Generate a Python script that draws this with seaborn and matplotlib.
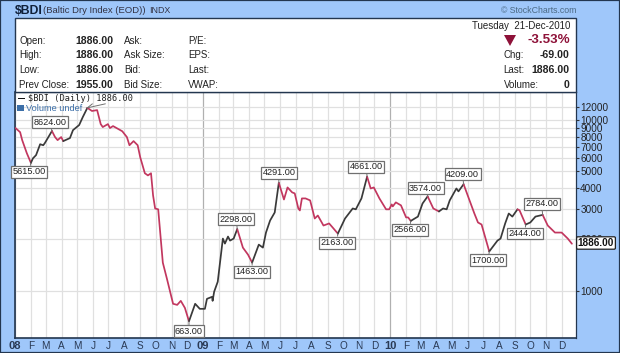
import pandas as pd
import matplotlib
matplotlib.use('Agg')
import matplotlib.pyplot as plt
import seaborn as sns
from matplotlib.patches import Rectangle, Polygon

# closing values
dates_2008 = ['2008-01-02', '2008-01-11', '2008-01-15', '2008-01-24', '2008-02-01', '2008-02-05', '2008-02-11',
              '2008-02-19', '2008-02-25', '2008-02-28', '2008-03-13', '2008-03-19', '2008-03-24', '2008-03-31',
              '2008-04-04', '2008-04-17', '2008-04-23', '2008-05-05', '2008-05-12', '2008-05-21', '2008-05-30',
              '2008-06-09', '2008-06-16', '2008-06-20', '2008-06-30', '2008-07-04', '2008-07-10', '2008-07-28',
              '2008-08-06', '2008-08-11', '2008-08-19', '2008-08-27', '2008-09-01', '2008-09-10', '2008-09-16',
              '2008-09-22', '2008-09-26', '2008-09-30', '2008-10-06', '2008-10-15', '2008-10-23', '2008-11-04',
              '2008-11-12', '2008-11-19', '2008-11-27', '2008-12-05', '2008-12-17', '2008-12-26']
close_2008 = [8980, 8490, 7630, 6400, 5615, 5970, 6230,
              7220, 7120, 7320, 8624, 7950, 7630, 7950,
              7530, 7840, 8730, 9350, 10400, 11793, 11300,
              11440, 9470, 9100, 9470, 8980, 9220, 8600,
              7950, 7120, 7530, 7120, 6050, 4880, 4740,
              4880, 3620, 3035, 3000, 1461, 1176, 839,
              827, 873, 794, 663, 839, 784]
dates_2009 = ['2009-01-05', '2009-01-09', '2009-01-19', '2009-01-20', '2009-01-23', '2009-01-30', '2009-02-09',
              '2009-02-13', '2009-02-19', '2009-02-23', '2009-03-02', '2009-03-09', '2009-03-20', '2009-03-30',
              '2009-04-07', '2009-04-20', '2009-04-28', '2009-05-04', '2009-05-12', '2009-05-21', '2009-05-29',
              '2009-06-08', '2009-06-15', '2009-06-24', '2009-06-29', '2009-07-06', '2009-07-09', '2009-07-13',
              '2009-07-20', '2009-07-29', '2009-08-07', '2009-08-13', '2009-08-24', '2009-09-04', '2009-09-11',
              '2009-09-21', '2009-10-05', '2009-10-20', '2009-10-26', '2009-11-06', '2009-11-17', '2009-11-24',
              '2009-11-30', '2009-12-11', '2009-12-24', '2009-12-30']
close_2009 = [784, 897, 922, 873, 987, 1130, 2022,
              1890, 2078, 1968, 2022, 2298, 1790, 1628,
              1463, 1864, 1790, 2193, 2580, 2875, 4291,
              3425, 4030, 3770, 3720, 3035, 2955, 3476,
              3476, 3384, 2651, 2760, 2411, 2480, 2346,
              2163, 2651, 3035, 3000, 3476, 4661, 3975,
              4030, 3476, 3000, 3000]
dates_2010 = ['2010-01-04', '2010-01-06', '2010-01-12', '2010-01-22', '2010-02-01', '2010-02-05', '2010-02-10',
              '2010-02-24', '2010-03-05', '2010-03-15', '2010-03-26', '2010-04-06', '2010-04-14', '2010-04-21',
              '2010-04-27', '2010-05-10', '2010-05-14', '2010-05-24', '2010-06-01', '2010-06-14', '2010-06-21',
              '2010-06-28', '2010-07-13', '2010-07-29', '2010-08-04', '2010-08-13', '2010-08-20', '2010-08-27',
              '2010-09-06', '2010-09-10', '2010-09-22', '2010-10-01', '2010-10-11', '2010-10-25', '2010-11-04',
              '2010-11-18', '2010-11-24', '2010-12-01', '2010-12-13', '2010-12-21']
close_2010 = [3205, 3120, 3295, 3165, 2690, 2690, 2566,
              2720, 3245, 3574, 3035, 2915, 3035, 3000,
              3384, 3975, 3822, 4209, 3620, 2836, 2513,
              2445, 1700, 1968, 2022, 2480, 2836, 2720,
              3000, 2960, 2444, 2513, 2720, 2784, 2411,
              2193, 2193, 2193, 2022, 1886]

# turning points, the line changes colour at each one
swing_dates = ['2008-01-02', '2008-02-01', '2008-03-13', '2008-04-04', '2008-05-21', '2008-12-05', '2009-03-09',
               '2009-04-07', '2009-05-29', '2009-09-21', '2009-11-17', '2010-02-10', '2010-03-15', '2010-04-06',
               '2010-05-24', '2010-07-13', '2010-09-06', '2010-09-22', '2010-10-25', '2010-12-21']

# boxed labels
label_dates = ['2008-02-01', '2008-03-13', '2008-12-05', '2009-03-09', '2009-04-07', '2009-05-29', '2009-09-21',
               '2009-11-17', '2010-02-10', '2010-03-15', '2010-05-24', '2010-07-13', '2010-09-22', '2010-10-25']
label_offsets = [(-2, -9), (-2, 9), (0, -10), (-1, 10), (0, -9), (0, 10), (-1, -9),
                 (-1, 10), (-1, -9), (-2, 8), (-1, 10), (-1, -9), (-1, -9), (-1, 11)]

y_ticks = [1000, 2000, 3000, 4000, 5000, 6000, 7000, 8000, 9000, 10000, 12000]
month_labels = ['08', 'F', 'M', 'A', 'M', 'J', 'J', 'A', 'S', 'O', 'N', 'D',
                '09', 'F', 'M', 'A', 'M', 'J', 'J', 'A', 'S', 'O', 'N', 'D',
                '10', 'F', 'M', 'A', 'M', 'J', 'J', 'A', 'S', 'O', 'N', 'D']

quote_rows = ['Open:', 'High:', 'Low:', 'Prev Close:']
quote_values = ['1886.00', '1886.00', '1886.00', '1955.00']
ask_rows = ['Ask:', 'Ask Size:', 'Bid:', 'Bid Size:']
ratio_rows = ['P/E:', 'EPS:', 'Last:', 'VWAP:']

df = pd.DataFrame({'date': pd.to_datetime(dates_2008 + dates_2009 + dates_2010),
                   'close': close_2008 + close_2009 + close_2010})
closes = df.set_index('date')['close']

sns.set_theme(style='white')
plt.rcParams['font.family'] = ['Liberation Sans', 'DejaVu Sans']

W, H = 620, 353
BLUE = '#9FC7FA'
NAVY = '#23364F'
RED = '#C2375F'
DARK = '#3A3A3A'
LINE_RED = '#8E1239'

fig = plt.figure(figsize=(6.2, 3.53), dpi=100, facecolor=BLUE)
fig.add_artist(Rectangle((0, 0), 1, 1, transform=fig.transFigure, fill=False, edgecolor=NAVY, lw=1.6))


def px(x, y):
    return x / W, 1 - y / H


def put(x, y, s, **kw):
    kw.setdefault('va', 'center')
    kw.setdefault('color', '#222222')
    kw.setdefault('fontsize', 7)
    fig.text(*px(x, y), s, **kw)


# white quote panel above the chart
fig.add_artist(Rectangle(px(15, 92), 561 / W, 74 / H, transform=fig.transFigure,
                         facecolor='white', edgecolor=NAVY, lw=1))

put(15, 10.5, '$BDI', fontsize=8.8, fontweight='bold', color='#10203A')
put(43, 10.5, '(Baltic Dry Index (EOD))', fontsize=6.8, color='#333344')
put(149, 10.5, 'INDX', fontsize=6.4, color='#333344')
put(576, 10.5, '© StockCharts.com', fontsize=6.3, color='#4C6A85', ha='right')

for i, row_y in enumerate([40.5, 55, 70, 84.5]):
    put(19, row_y, quote_rows[i])
    put(113, row_y, quote_values[i], fontweight='bold', fontsize=7.6, ha='right')
    put(124, row_y, ask_rows[i])
    put(188, row_y, ratio_rows[i])

put(570, 26, 'Tuesday  21-Dec-2010', ha='right')
put(570, 40, '-3.53%', ha='right', fontsize=9.6, fontweight='bold', color=LINE_RED)
fig.add_artist(Polygon([px(504, 35), px(516, 35), px(510, 46)], transform=fig.transFigure,
                       facecolor=LINE_RED, edgecolor='none'))
put(503, 55, 'Chg:')
put(570, 55, '-69.00', ha='right', fontweight='bold', fontsize=7.6)
put(503, 70, 'Last:')
put(570, 70, '1886.00', ha='right', fontweight='bold', fontsize=7.6)
put(504, 84.5, 'Volume:')
put(570, 84.5, '0', ha='right', fontweight='bold', fontsize=7.6)

# price chart
ax = fig.add_axes([15 / W, 1 - 338 / H, 561 / W, 246 / H], facecolor='white')

swings = pd.to_datetime(swing_dates)
for start, end in zip(swings[:-1], swings[1:]):
    leg = df[(df['date'] >= start) & (df['date'] <= end)]
    falling = closes[end] < closes[start]
    sns.lineplot(data=leg, x='date', y='close', ax=ax, estimator=None, legend=False,
                 color=RED if falling else DARK, linewidth=1.25, zorder=3)

ax.set_yscale('log')
ax.set_ylim(529, 14600)
ax.set_xlim(pd.Timestamp('2008-01-01'), pd.Timestamp('2010-12-29'))
ax.set_xlabel('')
ax.set_ylabel('')

month_ticks = pd.date_range('2008-01-01', '2010-12-01', freq='MS')
ax.set_xticks(month_ticks)
ax.set_xticklabels(month_labels)
ax.set_yticks(y_ticks)
ax.set_yticklabels([str(v) for v in y_ticks])
ax.minorticks_off()
ax.yaxis.tick_right()
ax.tick_params(axis='y', length=2, width=0.8, color='#333333', labelsize=7.2, pad=1, labelcolor='#222222',
               right=True)
ax.tick_params(axis='x', length=0, labelsize=7.2, pad=2, labelcolor='#2A3A55')
ax.grid(True, color='#E0E0E0', linewidth=0.9)
for line, text in zip(ax.get_xgridlines(), ax.get_xticklabels()):
    if text.get_text().isdigit():
        line.set_color('#B0B0B0')
        text.set_fontweight('bold')
        text.set_fontsize(8)
ax.set_axisbelow(True)

for side in ['left', 'bottom']:
    ax.spines[side].set_color(NAVY)
    ax.spines[side].set_linewidth(1.2)
for side in ['right', 'top']:
    ax.spines[side].set_color(NAVY)
    ax.spines[side].set_linewidth(0.9)

for day, offset in zip(label_dates, label_offsets):
    stamp = pd.Timestamp(day)
    ax.annotate(f'{closes[stamp]:.2f}', xy=(stamp, closes[stamp]), xytext=offset, textcoords='offset pixels',
                ha='center', va='center', fontsize=6.6, color='#222222', zorder=5,
                bbox=dict(boxstyle='square,pad=0.16', facecolor='white', edgecolor='#707070', linewidth=0.9),
                arrowprops=dict(arrowstyle='-', color='#707070', linewidth=0.7, shrinkA=0, shrinkB=0))

# leader of the peak label, the label itself sits under the legend
peak = pd.Timestamp('2008-05-21')
ax.annotate('', xy=(peak, closes[peak]), xytext=(5, 4), textcoords='offset pixels',
            arrowprops=dict(arrowstyle='-', color='#707070', linewidth=0.7, shrinkA=0, shrinkB=0))
ax.annotate('', xy=(peak, closes[peak]), xytext=(18, 4), textcoords='offset pixels',
            arrowprops=dict(arrowstyle='-', color='#707070', linewidth=0.7, shrinkA=0, shrinkB=0))

# last price flag on the right
fig.text(*px(596, 243), f'{closes.iloc[-1]:.2f}', ha='center', va='center', fontsize=7.2, fontweight='bold',
         color='#111111', zorder=10,
         bbox=dict(boxstyle='round,pad=0.12', facecolor='white', edgecolor='#222222', linewidth=0.9))

# legend at top left of the chart
fig.add_artist(Rectangle(px(18, 99), 7 / W, 1.4 / H, transform=fig.transFigure, facecolor='#111111', edgecolor='none'))
put(28, 98.5, '$BDI (Daily) 1886.00', fontsize=6.2, family='DejaVu Sans Mono', color='#222222')
put(26, 108, 'Volume undef', fontsize=6.6, color='#3C6FA8')
fig.add_artist(Rectangle(px(17, 111), 7 / W, 6 / H, transform=fig.transFigure, facecolor='#3C6FA8', edgecolor='none'))

fig.savefig('out.png', dpi=100, facecolor=fig.get_facecolor())
